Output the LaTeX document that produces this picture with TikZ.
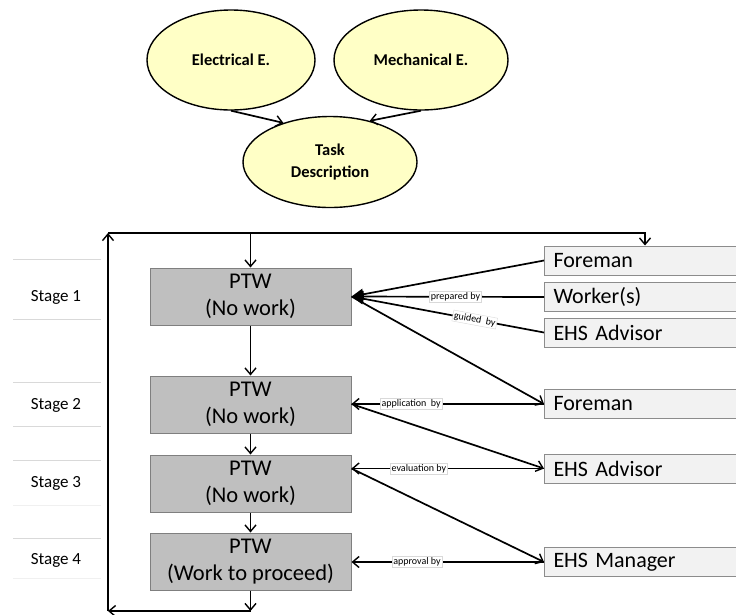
\documentclass[tikz,border=0pt]{standalone}
\usepackage{fontspec}
\setmainfont{Carlito}
\usetikzlibrary{arrows.meta,shapes.geometric}

\definecolor{ovalfill}{HTML}{FFFFC6}
\definecolor{ptwfill}{HTML}{BFBFBF}
\definecolor{ptwline}{HTML}{7F7F7F}
\definecolor{actorfill}{HTML}{F2F2F2}
\definecolor{actorline}{HTML}{8C8C8C}
\definecolor{rulegray}{HTML}{D9D9D9}
\definecolor{rulefaint}{HTML}{F0F0F0}

\begin{document}
\begin{tikzpicture}[x=1pt,y=-1pt,
  oval/.style={ellipse, draw, line width=1.4pt, fill=ovalfill, inner sep=0pt,
    align=center, font=\bfseries\fontsize{16.5}{22}\selectfont},
  ptw/.style={rectangle, draw=ptwline, line width=1pt, fill=ptwfill, inner sep=0pt,
    minimum width=201pt, minimum height=57pt, align=center,
    font=\fontsize{22.5}{26.5}\selectfont},
  actor/.style={rectangle, draw=actorline, line width=1pt, fill=actorfill, anchor=west,
    minimum height=29pt, text width=180pt, inner xsep=9pt, inner ysep=0pt, align=left,
    font=\fontsize{22}{26}\selectfont},
  stagelbl/.style={font=\fontsize{17}{20}\selectfont, inner sep=0pt},
  lbl/.style={fill=white, draw=rulegray, line width=0.4pt, inner sep=1.2pt,
    font=\fontsize{10}{12}\selectfont},
  flow/.style={line width=1.7pt, -{Straight Barb[length=6.5pt,width=11pt,line width=1.4pt]}},
  solidtip/.style={line width=1.7pt, -{Triangle[length=12pt,width=11pt]}},
]
\useasboundingbox (0,0) rectangle (736,614);

% source ovals
\node[oval, minimum width=168pt, minimum height=100pt] (elec) at (231,60) {Electrical E.};
\node[oval, minimum width=174pt, minimum height=100pt] (mech) at (421,60) {Mechanical E.};
\node[oval, minimum width=174pt, minimum height=91pt] (task) at (330,162) {Task\\Description};
\draw[flow] (elec.south) -- (task.140);
\draw[flow] (mech.south) -- (task.46);

% stage column
\foreach \y in {259,319,382,426,460,538}
  \draw[rulegray, line width=0.6pt] (13,\y) -- (101,\y);
\foreach \y in {505,578}
  \draw[rulefaint, line width=0.6pt] (13,\y) -- (101,\y);
\node[stagelbl] (s1) at (56,297) {Stage 1};
\node[stagelbl] (s2) at (56,405) {Stage 2};
\node[stagelbl] (s3) at (56,483) {Stage 3};
\node[stagelbl] (s4) at (56,560) {Stage 4};

% permit stages
\node[ptw] (ptw1) at (250.5,296.5) {PTW\\(No work)};
\node[ptw] (ptw2) at (250.5,404.5) {PTW\\(No work)};
\node[ptw] (ptw3) at (250.5,483.5) {PTW\\(No work)};
\node[ptw] (ptw4) at (250.5,561.5) {PTW\\(Work to proceed)};

% people involved
\begin{scope}
\clip (0,0) rectangle (736,614);
\node[actor] (fore1) at (544,260.5) {Foreman};
\node[actor] (work)  at (544,297)   {Worker(s)};
\node[actor] (adv1)  at (544,332.5) {EHS Advisor};
\node[actor] (fore2) at (544,404)   {Foreman};
\node[actor] (adv2)  at (544,468.5) {EHS Advisor};
\node[actor] (mgr)   at (544,562)   {EHS Manager};
\end{scope}

% loop around the stages
\coordinate (tl) at (108,233);
\coordinate (tr) at (645,233);
\coordinate (bl) at (108,611);
\draw[flow] (ptw1.north |- tl) -- (ptw1.north);
\draw[flow] (ptw1.south) -- (ptw2.north);
\draw[flow] (ptw2.south) -- (ptw3.north);
\draw[flow] (ptw3.south) -- (ptw4.north);
\draw[flow] (ptw4.south) -- (ptw4.south |- bl);
\draw[flow] (ptw4.south |- bl) -- (bl);
\draw[flow] (bl) -- (tl);
\draw[flow] (tl) -- (tr) -- (tr |- fore1.north);

% stage 1 contributions
\draw[solidtip] (fore1.west) -- (ptw1.east);
\draw[solidtip] (work.west) -- node[lbl, pos=0.46] {prepared by} (ptw1.east);
\draw[solidtip] (adv1.west) -- node[lbl, pos=0.36, sloped] {guided~ by} (ptw1.east);
\draw[flow] (ptw1.east) -- (fore2.west);

% stage 2
\coordinate (in2) at (ptw2.east |- fore2.west);
\draw[flow] (fore2.west) -- node[lbl, pos=0.69] {application~ by} (in2);
\draw[flow] (in2) -- (adv2.west);

% stage 3
\coordinate (in3) at (ptw3.east |- adv2.west);
\draw[flow] (adv2.west) -- node[lbl, pos=0.65] {evaluation by} (in3);
\draw[flow] (in3) -- (mgr.west);

% stage 4
\coordinate (in4) at (ptw4.east |- mgr.west);
\draw[flow] (mgr.west) -- node[lbl, pos=0.66] {approval by} (in4);
\end{tikzpicture}
\end{document}
